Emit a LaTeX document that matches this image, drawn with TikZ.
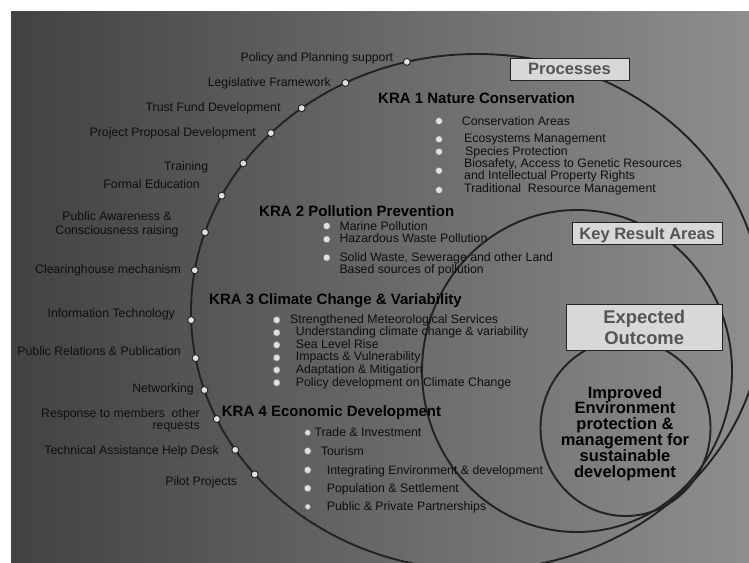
\documentclass[tikz,border=0pt]{standalone}
\usepackage{fontspec}
\setmainfont{Liberation Sans}
\usetikzlibrary{calc}
\definecolor{bgL}{RGB}{66,66,66}
\definecolor{bgR}{RGB}{142,142,142}
\definecolor{ln}{RGB}{34,34,34}
\definecolor{boxfill}{RGB}{216,216,216}
\definecolor{boxtxt}{RGB}{84,84,84}
\definecolor{dotfill}{RGB}{224,224,224}
\definecolor{txt}{RGB}{14,14,14}
\begin{document}
\begin{tikzpicture}[x=1pt,y=-1pt,
  ring/.style={draw=ln, line width=1.9pt},
  pdot/.style={circle, draw=ln, line width=0.9pt, fill=dotfill, inner sep=0pt, minimum size=7pt},
  bul/.style={circle, fill=dotfill, draw=ln!60, line width=0.5pt, inner sep=0pt, minimum size=7pt},
  lbl/.style={font=\fontsize{12.3}{12.5}\selectfont, text=txt, inner sep=0pt},
  item/.style={lbl, anchor=base west},
  side/.style={lbl, anchor=base east},
  kra/.style={font=\bfseries\fontsize{15}{17}\selectfont, text=black, inner sep=0pt, anchor=base west},
  tag/.style={draw=ln, line width=0.8pt, fill=boxfill, text=boxtxt, inner sep=0pt, outer sep=0pt}
]
\useasboundingbox (0,0) rectangle (749,562);
\clip (0,0) rectangle (749,562);
% background
\shade[left color=bgL, right color=bgR] (11,11) rectangle (749,562);

% rings
\coordinate (C) at (477,312);
\draw[ring] (C) ellipse [x radius=286pt, y radius=258pt];
\draw[ring] (577,371) ellipse [x radius=155pt, y radius=161pt];
\draw[ring] (625.5,428) ellipse [x radius=85pt, y radius=88pt];

% boxes
\node[tag, minimum width=119pt, minimum height=22pt, text depth=0pt,
  font=\bfseries\fontsize{16.5}{18}\selectfont] (proc) at (569.5,69) {Processes};
\node[tag, minimum width=150pt, minimum height=21.6pt, text depth=0pt,
  font=\bfseries\fontsize{16.5}{18}\selectfont] (kraBox) at (647.3,233.5) {Key Result Areas};
\node[tag, minimum width=156.3pt, minimum height=45.7pt, align=center,
  font=\bfseries\fontsize{18.4}{21}\selectfont] (expBox) at (644.2,327.2) {Expected\\Outcome};

% outcome text
\node[align=center, inner sep=0pt, text=black,
  font=\bfseries\fontsize{16.5}{15.8}\selectfont] (outcome) at (625,433.3)
  {Improved\\Environment\\protection \&\\management for\\sustainable\\development};

% process dots
\foreach \a/\n in {104.2/d1,117.4/d2,127.8/d3,136.1/d4,144.8/d5,153.2/d6,162/d7,170.7/d8,181.8/d9,190.3/d10,197.6/d11,204.5/d12,212.3/d13,219/d14}
  \node[pdot] (\n) at ($(C)+(\a:286pt and 258pt)$) {};

% process labels
\node[side] (p1) at (393.3,61.7) {Policy and Planning support};
\node[side] (p2) at (331,86.7) {Legislative Framework};
\node[side] (p3) at (280.7,111.7) {Trust Fund Development};
\node[side] (p4) at (256,136.7) {Project Proposal Development};
\node[side] (p5) at (208.3,170) {Training};
\node[side] (p6) at (200,188.3) {Formal Education};
\node[lbl, anchor=base] (p7a) at (117,220) {Public Awareness \&};
\node[lbl, anchor=base] (p7b) at (117,234.5) {Consciousness raising};
\node[side] (p8) at (181,273.3) {Clearinghouse mechanism};
\node[side] (p9) at (175,317.7) {Information Technology};
\node[side] (p10) at (181,355) {Public Relations \& Publication};
\node[side] (p11) at (194,392.7) {Networking};
\node[side] (p12a) at (200,417.3) {Response to members~ other};
\node[side] (p12b) at (200,429.5) {requests};
\node[side] (p13) at (219,454.3) {Technical Assistance Help Desk};
\node[side] (p14) at (237.3,485) {Pilot Projects};

% KRA 1
\node[kra] (k1) at (378,103.7) {KRA 1 Nature Conservation};
\node[bul] (b11) at (439,121) {};
\node[bul] (b12) at (439,139.3) {};
\node[bul] (b13) at (439,151.7) {};
\node[bul] (b14) at (439,170.7) {};
\node[bul] (b15) at (439,190) {};
\node[item] (t11) at (461.7,125) {Conservation Areas};
\node[item] (t12) at (464,142.7) {Ecosystems Management};
\node[item] (t13) at (465,155) {Species Protection};
\node[item] (t14a) at (464,167.7) {Biosafety, Access to Genetic Resources};
\node[item] (t14b) at (464,179.3) {and Intellectual Property Rights};
\node[item] (t15) at (464,192.7) {Traditional~ Resource Management};

% KRA 2
\node[kra] (k2) at (259,216) {KRA 2 Pollution Prevention};
\node[bul] (b21) at (326.7,226) {};
\node[bul] (b22) at (326.7,239.3) {};
\node[bul] (b23) at (326.7,257.7) {};
\node[item] (t21) at (339.3,230.7) {Marine Pollution};
\node[item] (t22) at (339.3,242.7) {Hazardous Waste Pollution};
\node[item] (t23a) at (339.3,261.7) {Solid Waste, Sewerage and other Land};
\node[item] (t23b) at (339.3,273.3) {Based sources of pollution};

% KRA 3
\node[kra] (k3) at (209,304.3) {KRA 3 Climate Change \& Variability};
\node[bul] (b31) at (276.7,320) {};
\node[bul] (b32) at (276.7,332.7) {};
\node[bul] (b33) at (276.7,345) {};
\node[bul] (b34) at (276.7,357.7) {};
\node[bul] (b35) at (276.7,370) {};
\node[bul] (b36) at (276.7,382.7) {};
\node[item] (t31) at (290,323.3) {Strengthened Meteorological Services};
\node[item] (t32) at (295.7,335.7) {Understanding climate change \& variability};
\node[item] (t33) at (295.7,348.3) {Sea Level Rise};
\node[item] (t34) at (295.7,360.7) {Impacts \& Vulnerability};
\node[item] (t35) at (295.7,373.3) {Adaptation \& Mitigation};
\node[item] (t36) at (295.7,386) {Policy development on Climate Change};

% KRA 4
\node[kra] (k4) at (221.7,416) {KRA 4 Economic Development};
\node[bul, minimum size=6pt] (b41) at (307.7,432.7) {};
\node[bul] (b42) at (307.7,451) {};
\node[bul] (b43) at (307.7,470) {};
\node[bul] (b44) at (307.7,488.3) {};
\node[bul, minimum size=5.6pt] (b45) at (307.7,506.7) {};
\node[item] (t41) at (314.3,436.7) {Trade \& Investment};
\node[item] (t42) at (320.7,455) {Tourism};
\node[item] (t43) at (326.7,474) {Integrating Environment \& development};
\node[item] (t44) at (326.7,492.7) {Population \& Settlement};
\node[item] (t45) at (326.7,510.7) {Public \& Private Partnerships};
\end{tikzpicture}
\end{document}
